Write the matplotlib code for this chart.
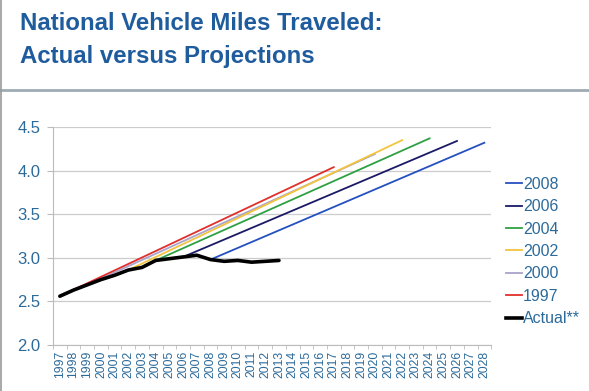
import numpy as np
import matplotlib.pyplot as plt
from matplotlib.lines import Line2D

# years on the x axis
years = list(range(1997, 2029))

# actual VMT (trillions)
actual_years = list(range(1997, 2014))
actual = [2.56, 2.63, 2.69, 2.75, 2.80, 2.86, 2.89, 2.97, 2.99, 3.01,
          3.03, 2.98, 2.96, 2.97, 2.95, 2.96, 2.97]

# projections: (label, start year, start value, end year, end value)
proj_labels = ['2008', '2006', '2004', '2002', '2000', '1997']
proj_start_year = [2008, 2006, 2004, 2002, 1999, 1997]
proj_start_val = [2.98, 3.01, 2.97, 2.86, 2.69, 2.56]
proj_end_year = [2028, 2026, 2024, 2022, 2020, 2017]
proj_end_val = [4.32, 4.34, 4.37, 4.35, 4.19, 4.04]
proj_colors = ['#2450c0', '#1a1a66', '#2ea043', '#f2c53d', '#aaa3cc', '#e0302c']

title_color = '#1f5c9e'
tick_color = '#2c6a9a'

plt.rcParams['font.family'] = ['Liberation Sans', 'DejaVu Sans']

fig = plt.figure(figsize=(5.89, 3.91), dpi=100)
ax = fig.add_axes([0.090, 0.1176, 0.744, 0.5575])

x_of = {y: i for i, y in enumerate(years)}

# draw projections back to front so red sits on top
order = [4, 3, 2, 1, 0, 5]
for k in order:
    xs = [x_of[proj_start_year[k]], x_of[proj_end_year[k]]]
    ys = [proj_start_val[k], proj_end_val[k]]
    ax.plot(xs, ys, color=proj_colors[k], lw=1.3, zorder=2)

ax.plot([x_of[y] for y in actual_years], actual, color='black', lw=2.6,
        zorder=3, solid_capstyle='round')

ax.set_xlim(-0.5, len(years) - 0.5)
ax.set_ylim(2.0, 4.5)
ax.set_yticks([2.0, 2.5, 3.0, 3.5, 4.0, 4.5])
ax.set_yticklabels(['2.0', '2.5', '3.0', '3.5', '4.0', '4.5'])
ax.set_xticks(range(len(years)))
ax.set_xticklabels([str(y) for y in years], rotation=90)
ax.set_xticks(np.arange(-0.5, len(years)), minor=True)
ax.tick_params(axis='x', which='major', length=0, labelsize=8.8,
               labelcolor=tick_color, pad=4)
ax.tick_params(axis='x', which='minor', length=3, color='#bbbbbb')
ax.tick_params(axis='y', length=4, color='#bbbbbb', labelsize=12,
               labelcolor=tick_color, pad=5)
ax.grid(axis='y', color='#cccccc', lw=0.9)
ax.set_axisbelow(True)
for s in ['top', 'right']:
    ax.spines[s].set_visible(False)
for s in ['left', 'bottom']:
    ax.spines[s].set_color('#bbbbbb')

handles = [Line2D([], [], color=c, lw=1.3) for c in proj_colors]
handles.append(Line2D([], [], color='black', lw=2.6))
leg = ax.legend(handles, proj_labels + ['Actual**'], loc='upper left',
                bbox_to_anchor=(1.02, 0.80), frameon=False, fontsize=11.5,
                handlelength=0.95, handletextpad=0.08, labelspacing=0.46,
                borderaxespad=0)
for t in leg.get_texts():
    t.set_color(tick_color)

fig.text(0.034, 0.923, 'National Vehicle Miles Traveled:', fontsize=17.3,
         fontweight='bold', color=title_color)
fig.text(0.034, 0.839, 'Actual versus Projections', fontsize=17.3,
         fontweight='bold', color=title_color)

# separator line under the title and left frame edge
fig.add_artist(Line2D([0, 1], [0.770, 0.770], color='#9eabb3', lw=2.0))
fig.add_artist(Line2D([0.002, 0.002], [0, 1], color='#999999', lw=1.2))

fig.savefig('out.png', dpi=100)
